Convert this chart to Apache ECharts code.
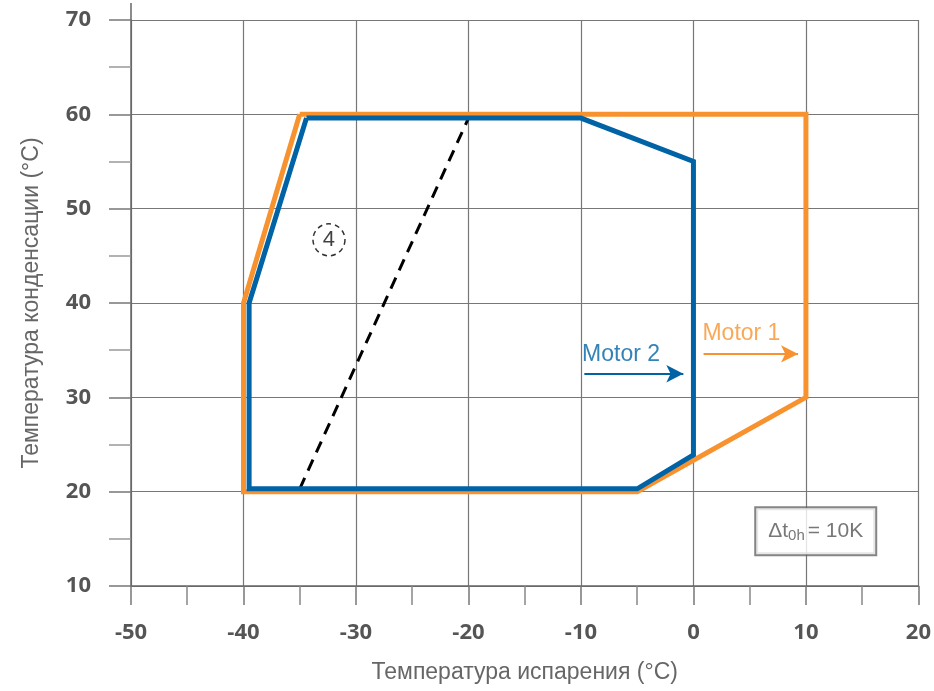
<!DOCTYPE html>
<html><head><meta charset="utf-8">
<script src="https://cdn.jsdelivr.net/npm/echarts@6/dist/echarts.min.js"></script>
<style>html,body{margin:0;padding:0;background:#fff}#c{width:934px;height:691px}</style>
</head><body><div id="c"></div>
<script>
// Envelope of Motor 1 (orange), closed polygon [evap, cond]
const motor1 = [[-35,60],[10,60],[10,30],[-5,20],[-40,20],[-40,40],[-35,60]];
// Envelope of Motor 2 (blue)
const motor2 = [[-34.4,59.6],[-10,59.6],[0,55],[0,23.9],[-5,20.3],[-39.5,20.3],[-39.5,40],[-34.4,59.6]];
// Dashed limit line
const dashed = [[-35,20.3],[-20,59.6]];
// Annotation "4"
const circleMark = [[-32.4,46.7]];
// Labels and arrows
const motor2Label = [-9.9,34.5];
const motor1Label = [0.8,36.7];
const motor2Arrow = [[-9.7,32.5],[-0.9,32.5]];
const motor1Arrow = [[0.9,34.6],[9.3,34.6]];
const boxPos = [10.87,15.8];
const xTicks = [-50,-40,-30,-20,-10,0,10,20];
const yTicks = [10,20,30,40,50,60,70];

const ORANGE = '#f7922e', BLUE = '#0063a6';
const chart = echarts.init(document.getElementById('c'));
const labelFont = {fontFamily:'Open Sans', fontWeight:'bold', fontSize:22, color:'#555'};
function arrowLine(pts, color){
  return {silent:true,symbol:['none','arrow'],symbolSize:[13,17],label:{show:false},
    lineStyle:{color:color,width:2,type:'solid'},
    data:[[{coord:pts[0]},{coord:pts[1]}]]};
}
chart.setOption({
  animation:false,
  grid:{left:131,right:14,top:20,bottom:105},
  xAxis:{type:'value',min:xTicks[0],max:xTicks[xTicks.length-1],interval:10,
    name:'Температура испарения (°C)',nameLocation:'middle',nameGap:75,
    nameTextStyle:{fontFamily:'Liberation Sans',fontSize:23,color:'#666'},
    axisLine:{show:true,onZero:false,lineStyle:{color:'#666',width:1.5}},
    axisTick:{show:true,length:19,lineStyle:{color:'#777',width:1.5}},
    minorTick:{show:true,splitNumber:2,length:19,lineStyle:{color:'#888',width:1.5}},
    splitLine:{show:true,lineStyle:{color:'#777',width:1.2}},
    axisLabel:Object.assign({margin:36},labelFont)},
  yAxis:{type:'value',min:yTicks[0],max:yTicks[yTicks.length-1],interval:10,
    name:'Температура конденсации (°C)',nameLocation:'middle',nameGap:88,
    nameTextStyle:{fontFamily:'Liberation Sans',fontSize:23,color:'#666'},
    axisLine:{show:true,onZero:false,lineStyle:{color:'#666',width:1.5}},
    axisTick:{show:true,length:22,lineStyle:{color:'#777',width:1.5}},
    minorTick:{show:true,splitNumber:2,length:22,lineStyle:{color:'#999',width:1.5}},
    splitLine:{show:true,lineStyle:{color:'#777',width:1.2}},
    axisLabel:Object.assign({margin:40},labelFont)},
  series:[
    {type:'line',data:motor1,symbol:'none',z:3,lineStyle:{color:ORANGE,width:5,join:'miter'}},
    {type:'line',data:motor2,symbol:'none',z:4,lineStyle:{color:BLUE,width:5,join:'miter'}},
    {type:'line',data:dashed,symbol:'none',z:2,lineStyle:{color:'#000',width:3,type:[12,8]}},
    {type:'scatter',data:circleMark,symbol:'circle',symbolSize:32,z:5,
      itemStyle:{color:'rgba(0,0,0,0)',borderColor:'#000',borderWidth:1.5,borderType:[5,4]},
      label:{show:true,position:'inside',formatter:'4',fontFamily:'Liberation Sans',fontSize:22,color:'#111'}},
    {type:'scatter',data:[motor2Label],symbolSize:0,z:6,
      label:{show:true,position:'right',distance:0,formatter:'Motor 2',fontFamily:'Liberation Sans',fontSize:23,color:BLUE},
      markLine:arrowLine(motor2Arrow,BLUE)},
    {type:'scatter',data:[motor1Label],symbolSize:0,z:6,
      label:{show:true,position:'right',distance:0,formatter:'Motor 1',fontFamily:'Liberation Sans',fontSize:23,color:ORANGE},
      markLine:arrowLine(motor1Arrow,ORANGE)},
    {type:'scatter',data:[boxPos],symbolSize:0,z:7,
      label:{show:true,position:'inside',formatter:'{a|Δt}{b|0h}{a|= 10K}',
        backgroundColor:'#fff',borderColor:'#666',borderWidth:2,padding:[11,12,11,12],
        rich:{a:{fontFamily:'Liberation Sans',fontSize:21,color:'#555',lineHeight:24},
              b:{fontFamily:'Liberation Sans',fontSize:15,color:'#555',lineHeight:24,verticalAlign:'bottom',padding:[4,3,0,0]}}}}
  ]
});
const p = chart.convertToPixel({gridIndex:0},[xTicks[0],yTicks[yTicks.length-1]]);
chart.setOption({graphic:[{type:'line',shape:{x1:p[0],y1:p[1],x2:p[0],y2:3},style:{stroke:'#666',lineWidth:1.5}}]});
</script></body></html>
